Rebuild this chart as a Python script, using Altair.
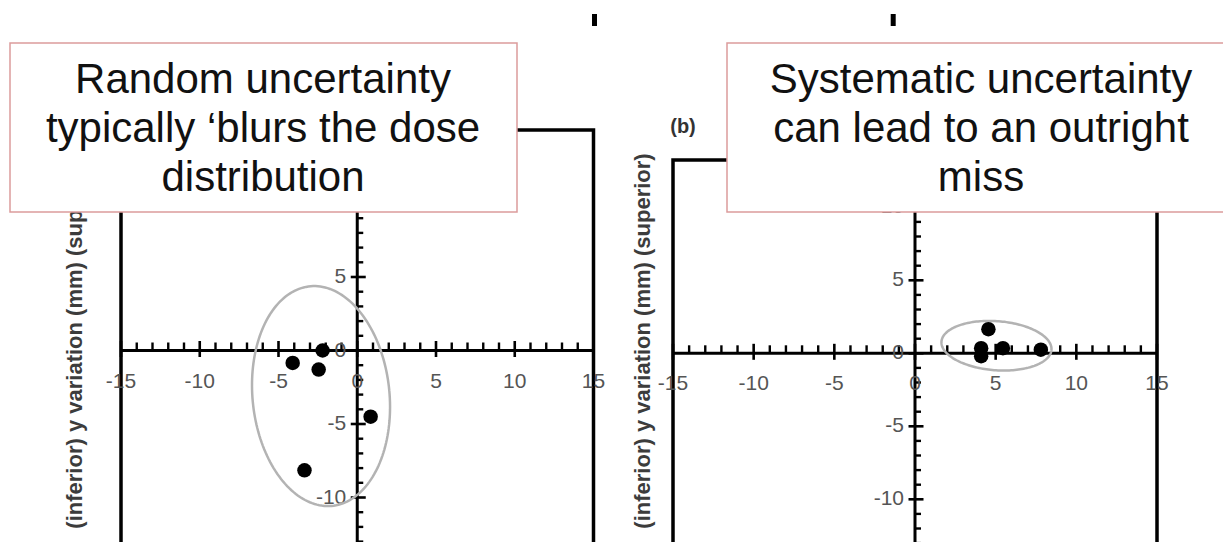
import numpy as np
import pandas as pd
import altair as alt

# ---------------- data ----------------
major_ticks = [-15, -10, -5, 0, 5, 10, 15]
x_labels = ["-15", "-10", "-5", "0", "5", "10", "15"]
y_label_ticks = [10, 5, 0, -5, -10]
y_labels = ["10", "5", "0", "-5", "-10"]
minor_ticks = [-14, -13, -12, -11, -9, -8, -7, -6, -4, -3, -2, -1,
               1, 2, 3, 4, 6, 7, 8, 9, 11, 12, 13, 14]

# panel (a): random uncertainty
a_x = [-2.2, -4.1, -2.45, 0.85, -3.35]
a_y = [0.0, -0.85, -1.3, -4.5, -8.15]
# panel (b): systematic uncertainty
b_x = [4.55, 4.1, 4.1, 5.45, 7.8]
b_y = [1.65, 0.35, -0.2, 0.35, 0.25]

# ellipses: centre x, centre y, radius x, radius y, rotation (deg)
ellipse_a = [-2.3, -3.1, 4.35, 7.5, 5.0]
ellipse_b = [5.05, 0.52, 3.42, 1.68, -5.0]

# frame outline (left, top, right); top of frame per panel
frame_x = [-15, -15, 15, 15]
frame_top_a = 15
frame_top_b = 13.24

y_title = "(inferior) y variation (mm) (superior)"
box_a_text = "Random uncertainty\ntypically \u2018blurs the dose\ndistribution"
box_b_text = "Systematic uncertainty\ncan lead to an outright\nmiss"
panel_b_tag = "(b)"

# ---------------- layout (pixel placement of each panel) ----------------
RANGE = {
    "a": dict(x=[113, 585.5], y=[563, 122]),
    "b": dict(x=[665, 1149], y=[564.3, 126.3]),
}
FONT = "Liberation Sans"
LABEL_GREY = "#555555"


def sc(p, ch):
    return alt.Scale(domain=[-15, 15], range=RANGE[p][ch], nice=False, zero=False)


def X(field, p):
    return alt.X(field, type="quantitative", scale=sc(p, "x"), axis=None)


def Y(field, p):
    return alt.Y(field, type="quantitative", scale=sc(p, "y"), axis=None)


def ellipse_df(params):
    cx, cy, rx, ry, ang = params
    t = np.linspace(0, 2 * np.pi, 181)
    th = np.deg2rad(ang)
    ex = cx + rx * np.cos(t) * np.cos(th) - ry * np.sin(t) * np.sin(th)
    ey = cy + rx * np.cos(t) * np.sin(th) + ry * np.sin(t) * np.cos(th)
    return pd.DataFrame({"x": ex, "y": ey, "i": np.arange(len(t))})


def panel(p, px, py, ell, top):
    layers = []
    fr = pd.DataFrame({"x": frame_x, "y": [-15, top, top, -15], "i": [0, 1, 2, 3]})
    layers.append(alt.Chart(fr).mark_line(color="black", strokeWidth=3.5, strokeJoin="miter").encode(
        x=X("x", p), y=Y("y", p), order="i:Q"))
    # axes through origin
    xa = pd.DataFrame({"x": [-15], "x2": [15], "y": [0]})
    layers.append(alt.Chart(xa).mark_rule(color="black", strokeWidth=3).encode(
        x=X("x", p), x2="x2:Q", y=Y("y", p)))
    ya = pd.DataFrame({"x": [0], "y": [-15], "y2": [15]})
    layers.append(alt.Chart(ya).mark_rule(color="black", strokeWidth=3).encode(
        x=X("x", p), y=Y("y", p), y2="y2:Q"))
    # ticks
    mn = pd.DataFrame({"v": minor_ticks, "z": [0] * len(minor_ticks)})
    mj = pd.DataFrame({"v": major_ticks, "z": [0] * len(major_ticks), "lab": x_labels})
    yl = pd.DataFrame({"v": y_label_ticks, "z": [0] * len(y_label_ticks), "lab": y_labels})
    layers.append(alt.Chart(mn).mark_tick(orient="vertical", size=8, thickness=2.4, yOffset=-4,
                                          color="black", opacity=1).encode(x=X("v", p), y=Y("z", p)))
    layers.append(alt.Chart(mj).mark_tick(orient="vertical", size=16, thickness=2.6, yOffset=-1.5,
                                          color="black", opacity=1).encode(x=X("v", p), y=Y("z", p)))
    layers.append(alt.Chart(mn).mark_tick(orient="horizontal", size=6, thickness=2.4, xOffset=3,
                                          color="black", opacity=1).encode(x=X("z", p), y=Y("v", p)))
    layers.append(alt.Chart(mj).mark_tick(orient="horizontal", size=15, thickness=2.6, xOffset=1,
                                          color="black", opacity=1).encode(x=X("z", p), y=Y("v", p)))
    # tick labels
    layers.append(alt.Chart(mj).mark_text(dy=31, fontSize=21, font=FONT, color=LABEL_GREY,
                                          baseline="middle", align="center").encode(
        x=X("v", p), y=Y("z", p), text="lab:N"))
    layers.append(alt.Chart(yl).mark_text(dx=-11, fontSize=21, font=FONT, color=LABEL_GREY,
                                          baseline="middle", align="right").encode(
        x=X("z", p), y=Y("v", p), text="lab:N"))
    # ellipse
    layers.append(alt.Chart(ellipse_df(ell)).mark_line(color="#b3b3b3", strokeWidth=2.5).encode(
        x=X("x", p), y=Y("y", p), order="i:Q"))
    # points
    pts = pd.DataFrame({"x": px, "y": py})
    layers.append(alt.Chart(pts).mark_circle(size=210, color="black", opacity=1).encode(
        x=X("x", p), y=Y("y", p)))
    return layers


layers = []
layers += panel("a", a_x, a_y, ellipse_a, frame_top_a)
layers += panel("b", b_x, b_y, ellipse_b, frame_top_b)

one = pd.DataFrame({"k": [0]})

# y-axis titles
for xpos in (67, 635):
    layers.append(alt.Chart(one).mark_text(angle=270, fontSize=22, fontWeight="bold", font=FONT,
                                           color="#3c3c3c", align="center", baseline="middle").encode(
        x=alt.value(xpos), y=alt.value(333), text=alt.value(y_title)))

# panel tag
layers.append(alt.Chart(one).mark_text(fontSize=20, fontWeight="bold", font=FONT, color="#333333",
                                       align="center", baseline="middle").encode(
    x=alt.value(675), y=alt.value(119), text=alt.value(panel_b_tag)))

# small marks at the top
for xpos in (586.5, 885.2):
    layers.append(alt.Chart(one).mark_rule(color="black", strokeWidth=5).encode(
        x=alt.value(xpos), y=alt.value(6), y2=alt.value(18)))

# annotation boxes
for (x1, x2) in ((2, 509), (719, 1230)):
    layers.append(alt.Chart(one).mark_rect(fill="white", stroke="#dc9c9c", strokeWidth=1.5).encode(
        x=alt.value(x1), x2=alt.value(x2), y=alt.value(35), y2=alt.value(204)))
for (xc, txt) in ((255, box_a_text), (973, box_b_text)):
    layers.append(alt.Chart(one).mark_text(fontSize=42, font=FONT, color="#111111", align="center",
                                           baseline="middle", lineBreak="\n", lineHeight=49).encode(
        x=alt.value(xc), y=alt.value(72), text=alt.value(txt)))

chart = alt.layer(*layers).resolve_scale(x="independent", y="independent").properties(
    width=1215, height=534, autosize=alt.AutoSizeParams(type="none"), padding=0
).configure_view(stroke=None)

chart.save("out.html", embed_options={"renderer": "svg", "actions": False})
